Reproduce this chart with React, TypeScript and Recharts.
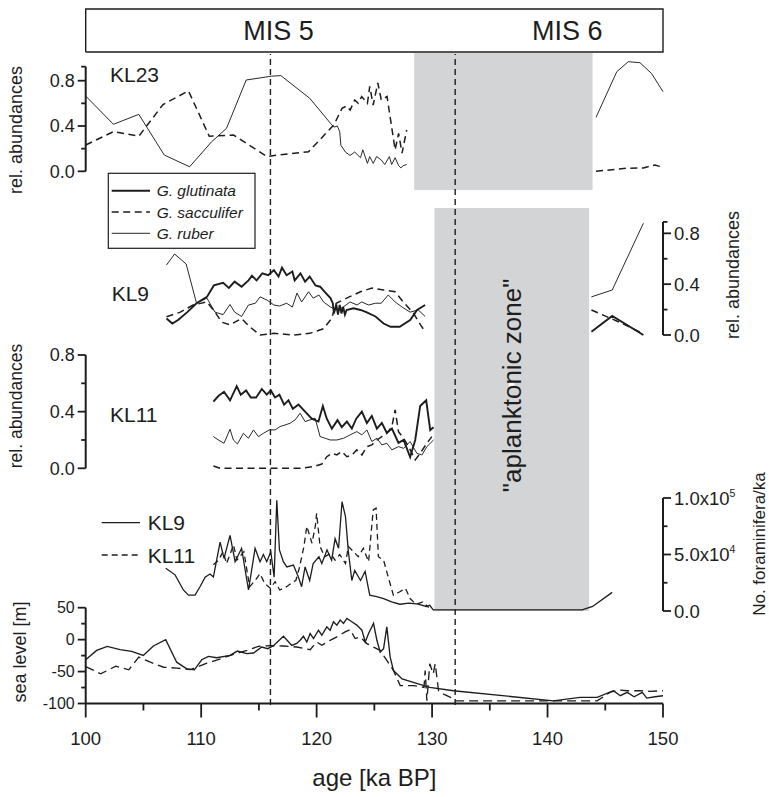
import React from 'react';
import { LineChart, ComposedChart, Line, Area, XAxis, YAxis, LabelList } from 'recharts';

const FONT = '"Liberation Sans", Arial, Helvetica, sans-serif';
const INK = '#1d1d1d';
const GREY = '#d3d4d6';
const W = 769;
const H = 797;
const PL = 85.7;
const PR = 663;
const XH = 90;

type Pt = [number, number | null];

// ---------------- data ----------------
const AGE_DOMAIN: [number, number] = [100, 150];
const X_TICKS = [100, 105, 110, 115, 120, 125, 130, 135, 140, 145, 150];
const EVENT_LINES = [116, 132];
const MIS_BOUNDARY = 133.4;
const ZONE_KL23: [number, number] = [128.45, 143.9];
const ZONE_APLANKTONIC: [number, number] = [130.2, 143.6];

const KL23_RUBER: Pt[] = [
  [100, 0.665], [102.4, 0.415], [104.6, 0.503], [106.8, 0.144], [109.0, 0.04], [110.9, 0.26], [112.2, 0.38],
  [113.9, 0.806], [116.1, 0.84], [116.9, 0.845], [119.4, 0.645], [121.2, 0.424], [121.5, 0.39], [121.8, 0.4],
  [122.0, 0.35], [122.1, 0.23], [122.5, 0.17], [122.9, 0.14], [123.3, 0.17], [123.8, 0.12], [124.0, 0.19],
  [124.4, 0.07], [124.6, 0.13], [124.9, 0.07], [125.2, 0.13], [125.6, 0.1], [125.9, 0.06], [126.3, 0.13],
  [126.5, 0.06], [126.8, 0.12], [127.1, 0.05], [127.3, 0.03], [127.5, 0.05], [127.8, 0.06],
  [136, null],
  [144.2, 0.477], [146.0, 0.88], [147.0, 0.968], [148.0, 0.959], [149.0, 0.865], [150, 0.703],
];
const KL23_SACC: Pt[] = [
  [100, 0.232], [102.4, 0.35], [104.6, 0.31], [106.7, 0.59], [108.9, 0.71], [110.7, 0.31], [112.8, 0.32],
  [115.7, 0.13], [116.6, 0.144], [119.3, 0.173], [121.5, 0.41], [122.2, 0.556], [122.6, 0.577], [122.9, 0.54],
  [123.3, 0.63], [123.6, 0.6], [123.9, 0.66], [124.4, 0.6], [124.6, 0.75], [124.9, 0.585], [125.3, 0.78],
  [125.6, 0.63], [126.1, 0.66], [126.5, 0.39], [126.8, 0.19], [127.1, 0.335], [127.4, 0.16], [127.8, 0.365],
  [136, null],
  [144.2, 0.0], [146.9, 0.027], [148.3, 0.03], [149.3, 0.056], [150, 0.035],
];

const KL9_GLUT: Pt[] = [
  [107.0, 0.13], [107.5, 0.09], [108.0, 0.118], [108.8, 0.18], [109.6, 0.25], [110.5, 0.30], [111.1, 0.39],
  [111.9, 0.41], [112.4, 0.37], [112.9, 0.42], [113.5, 0.38], [114.1, 0.43], [114.4, 0.466], [114.8, 0.43],
  [115.3, 0.485], [115.8, 0.47], [116.3, 0.51], [116.7, 0.46], [117.0, 0.53], [117.4, 0.47], [117.9, 0.50],
  [118.1, 0.43], [118.6, 0.485], [119.0, 0.42], [119.4, 0.46], [119.9, 0.39], [120.3, 0.38], [120.7, 0.34],
  [121.2, 0.29], [121.4, 0.25], [121.5, 0.17], [121.7, 0.24], [121.85, 0.16], [122.0, 0.236], [122.15, 0.17],
  [122.3, 0.22], [122.45, 0.16], [122.6, 0.197], [123.2, 0.21], [123.8, 0.197], [124.3, 0.18], [125.1, 0.146],
  [125.8, 0.09], [126.4, 0.065], [127.2, 0.065], [128.1, 0.118], [128.7, 0.197], [129.4, 0.236],
  [136, null],
  [143.8, 0.026], [145.6, 0.15], [148.3, 0.0],
];
const KL9_RUBER: Pt[] = [
  [107.0, 0.551], [107.7, 0.637], [108.7, 0.559], [109.6, 0.25], [110.5, 0.29], [111.2, 0.18], [111.9, 0.16],
  [112.5, 0.24], [112.9, 0.18], [113.5, 0.146], [114.1, 0.236], [114.7, 0.25], [115.1, 0.30], [115.7, 0.275],
  [116.3, 0.236], [116.8, 0.228], [117.4, 0.25], [117.9, 0.22], [118.3, 0.33], [118.7, 0.26], [119.3, 0.34],
  [119.7, 0.29], [120.2, 0.315], [120.6, 0.26], [121.2, 0.22], [121.8, 0.197], [122.3, 0.22], [122.9, 0.26],
  [123.5, 0.236], [123.9, 0.26], [124.5, 0.236], [125.1, 0.25], [125.6, 0.25], [126.2, 0.315], [126.8, 0.26],
  [127.4, 0.22], [128.1, 0.18], [128.8, 0.197], [129.4, 0.146],
  [136, null],
  [143.8, 0.30], [145.6, 0.354], [148.3, 0.879],
];
const KL9_SACC: Pt[] = [
  [107.0, 0.144], [108.2, 0.18], [109.3, 0.236], [110.5, 0.26], [111.2, 0.18], [111.8, 0.10], [112.5, 0.08],
  [113.5, 0.13], [114.2, 0.065], [115.1, 0.0], [116.3, 0.013], [118.0, 0.0], [119.4, 0.013], [120.6, 0.05],
  [121.3, 0.13], [121.7, 0.25], [122.6, 0.29], [123.8, 0.34], [124.8, 0.37], [125.8, 0.354], [126.8, 0.34],
  [127.5, 0.26], [128.4, 0.17], [129.0, 0.08], [129.4, 0.026],
  [136, null],
  [143.8, 0.197], [146.5, 0.09], [148.3, 0.01],
];

const KL11_GLUT: Pt[] = [
  [111.06, 0.47], [111.49, 0.51], [111.98, 0.54], [112.5, 0.48], [113.08, 0.58], [113.43, 0.52], [113.89, 0.55],
  [114.3, 0.5], [114.76, 0.5], [115.25, 0.56], [115.68, 0.52], [116.03, 0.55], [116.4, 0.5], [116.78, 0.52],
  [117.18, 0.45], [117.56, 0.48], [117.94, 0.42], [118.43, 0.45], [119.0, 0.4], [119.58, 0.35], [120.16, 0.33],
  [120.54, 0.44], [120.88, 0.35], [121.32, 0.28], [121.81, 0.34], [122.18, 0.29], [122.62, 0.33], [123.05, 0.28],
  [123.43, 0.35], [123.92, 0.4], [124.35, 0.32], [124.78, 0.37], [125.22, 0.28], [125.65, 0.32], [126.08, 0.25],
  [126.52, 0.28], [127.09, 0.18], [127.53, 0.2], [128.1, 0.08], [128.54, 0.2], [128.97, 0.44], [129.49, 0.48],
  [129.84, 0.27], [130.13, 0.29],
];
const KL11_RUBER: Pt[] = [
  [111.06, 0.224], [111.49, 0.2], [111.98, 0.177], [112.5, 0.276], [112.79, 0.2], [113.14, 0.172], [113.66, 0.247],
  [114.09, 0.212], [114.53, 0.271], [114.96, 0.224], [115.39, 0.247], [115.91, 0.271], [116.4, 0.271],
  [116.84, 0.295], [117.27, 0.306], [117.7, 0.318], [118.14, 0.342], [118.57, 0.389], [119.0, 0.33],
  [119.44, 0.342], [119.87, 0.354], [120.3, 0.224], [120.74, 0.212], [121.17, 0.2], [121.75, 0.2], [122.33, 0.212],
  [122.9, 0.236], [123.48, 0.259], [123.92, 0.236], [124.35, 0.271], [124.78, 0.189], [125.22, 0.212],
  [125.65, 0.165], [126.08, 0.177], [126.52, 0.13], [127.09, 0.153], [127.53, 0.141], [128.1, 0.189],
  [128.68, 0.106], [129.12, 0.094], [129.55, 0.153], [130.13, 0.2],
];
const KL11_SACC: Pt[] = [
  [111.06, 0.016], [111.64, 0.0], [112.79, 0.0], [115.68, 0.0], [118.57, 0.0], [119.73, 0.012], [120.45, 0.03],
  [120.88, 0.082], [121.32, 0.106], [121.75, 0.094], [122.18, 0.118], [122.62, 0.082], [123.05, 0.094],
  [123.48, 0.13], [123.92, 0.094], [124.35, 0.153], [124.78, 0.165], [125.22, 0.2], [125.65, 0.224],
  [126.08, 0.247], [126.52, 0.295], [126.8, 0.413], [127.09, 0.259], [127.53, 0.212], [127.96, 0.153],
  [128.54, 0.059], [128.97, 0.106], [129.55, 0.177], [129.98, 0.224],
];

const FORAM_KL9: Pt[] = [
  [106.93, 37800], [107.74, 32000], [108.46, 18600], [108.9, 14000], [109.47, 14000], [109.9, 21500],
  [110.34, 30000], [110.77, 32700], [111.06, 30000], [111.64, 61000], [111.98, 46600], [112.5, 67000],
  [112.94, 43600], [113.5, 55500], [114.1, 18600], [114.67, 55500], [115.1, 43600], [115.39, 50000],
  [115.68, 43600], [116.03, 52500], [116.32, 30000], [116.55, 98000], [116.78, 54000], [117.12, 43600],
  [117.42, 39000], [117.99, 40700], [118.42, 30000], [118.7, 21500], [119.0, 39000], [119.4, 27000],
  [119.7, 42000], [120.2, 48000], [120.45, 42000], [120.9, 54000], [121.3, 45000], [121.6, 64000],
  [121.9, 55500], [122.2, 96700], [122.5, 83500], [122.75, 52500], [123.05, 27000], [123.3, 36000],
  [123.8, 27000], [124.2, 35000], [124.6, 14000], [125.2, 12700], [125.8, 11000], [126.5, 8000], [127.2, 6000],
  [128.0, 7000], [128.8, 6000], [129.5, 4000], [129.8, 5000], [130.1, 1000], [143.0, 1000], [143.9, 4000],
  [145.6, 16500],
];
const FORAM_KL11: Pt[] = [
  [111.06, 41000], [111.5, 45000], [111.9, 52500], [112.2, 42000], [112.8, 58400], [113.1, 45000],
  [113.7, 52500], [114.2, 21500], [114.67, 27000], [115.1, 33000], [115.5, 24500], [116.0, 20000],
  [116.4, 26000], [116.8, 18600], [117.4, 21500], [118.0, 26000], [118.2, 27000], [118.5, 38000],
  [118.9, 57000], [119.15, 75000], [119.6, 60000], [119.9, 76000], [120.0, 86500], [120.3, 57000],
  [120.7, 48000], [121.2, 51000], [121.6, 45000], [122.0, 50000], [122.5, 42000], [122.75, 57000],
  [123.2, 52500], [123.6, 48000], [124.05, 55500], [124.5, 43600], [124.9, 89400], [125.15, 91000],
  [125.35, 48000], [125.8, 45000], [126.2, 30000], [126.65, 14000], [127.2, 17000], [127.7, 20000],
  [128.1, 11000], [128.6, 6000], [129.2, 8000], [129.7, 3000],
];

const SEA_SOLID: Pt[] = [
  [100, -31.5], [100.95, -16.8], [101.87, -10.5], [102.97, -15.7], [103.98, -18.4], [104.99, -24.7],
  [105.86, -10], [106.93, 0], [107.88, -35.3], [108.75, -45.7], [109.41, -47.3], [110.05, -31.5],
  [110.63, -26.3], [111.35, -28.3], [112.5, -24.7], [113.14, -17.9], [113.95, -22], [114.53, -21],
  [115.25, -11.6], [115.77, -14.2], [116.26, -9.4], [117.13, 5.3], [117.85, -9], [118.28, -6], [118.57, -1],
  [118.86, 5.3], [119.15, -3.7], [119.44, 9.6], [119.73, 1.7], [120.16, 14.8], [120.45, 6.9], [120.88, 20],
  [121.17, 14.8], [121.46, 27.9], [121.75, 22.7], [122.04, 30.6], [122.33, 25.4], [122.62, 33.2],
  [123.05, 27.9], [123.48, 22.7], [123.92, 14.8], [124.21, -3.7], [124.5, 9.6], [124.93, 25.4], [125.22, -1],
  [125.51, -19.5], [125.8, -14.1], [126.08, 20], [126.37, -27.4], [126.66, -48.4], [127.4, -61.5],
  [128.8, -69.4], [129.8, -74.7], [131.85, -80], [140.5, -95.8], [142.8, -90.5], [144.3, -90.5],
  [145.7, -80], [146.3, -87.8], [146.9, -82.6], [147.5, -89.4], [148.2, -82.6], [148.6, -91.5],
  [149.3, -89.4], [150, -87.8],
];
const SEA_DASHED: Pt[] = [
  [100, -42.1], [101.3, -53.6], [102.6, -41.6], [103.73, -47.3], [104.6, -27.4], [105.6, -35.3],
  [106.76, -43.2], [107.9, -44.7], [109.07, -46.8], [110.5, -36.8], [111.7, -29.9], [112.8, -23.1],
  [113.97, -16.8], [114.96, -10.5], [115.97, -9.4], [117.13, -10], [118.28, -11.6], [119.44, -15.8],
  [120.0, -3.7], [120.45, -8.9], [121.17, -1], [121.75, 4.2], [122.47, 12.1], [122.9, 15.8], [123.34, 1.7],
  [123.77, 4.2], [124.35, -6.2], [124.93, -11.6], [125.5, -16.8], [126.08, -32.6], [126.66, -48.4],
  [127.24, -72], [128.4, -72], [129.3, -74.7], [129.4, -48.4], [129.55, -95.8], [129.8, -37.8],
  [130.1, -53.6], [130.27, -37.8], [130.56, -80], [131.0, -85.3], [131.6, -90.5], [132.0, -95.8],
  [144.3, -95.8], [145.4, -82.6], [146.1, -78.9], [146.9, -80], [148.0, -80], [148.9, -81], [150, -80],
];

const SPECIES = ['G. glutinata', 'G. sacculifer', 'G. ruber'];
const CORES = ['KL9', 'KL11'];

// ---------------- styles ----------------
const STYLE_GLUT = { stroke: INK, strokeWidth: 1.9 };
const STYLE_SACC = { stroke: INK, strokeWidth: 1.5, strokeDasharray: '7 4.5' };
const STYLE_RUBER = { stroke: INK, strokeWidth: 0.95 };
const STYLE_CORE = [
  { stroke: INK, strokeWidth: 1.3 },
  { stroke: INK, strokeWidth: 1.3, strokeDasharray: '6 4' },
];
const STYLE_SEA = [
  { stroke: INK, strokeWidth: 1.35 },
  { stroke: INK, strokeWidth: 1.35, strokeDasharray: '9 5' },
];

const rows = (p: Pt[]) => p.map(([a, v]) => ({ a, v }));

const fmt1 = (v: number) => v.toFixed(1);
const fmtInt = (v: number) => String(v);
const fmtSci = (v: number) => {
  if (v === 0) return '0.0';
  const e = Math.floor(Math.log10(v));
  return (
    <>
      {(v / Math.pow(10, e)).toFixed(1)}x10
      <tspan dy={-8} fontSize={10.5}>{e}</tspan>
    </>
  );
};

const Layer = ({ children }: { children: React.ReactNode }) => (
  <div style={{ position: 'absolute', left: 0, top: 0, width: W, height: H }}>{children}</div>
);

function makeYTick(side: 'left' | 'right', majors: number[], fmt: (v: number) => React.ReactNode, fs: number) {
  const axisX = side === 'left' ? PL : PR;
  const dir = side === 'left' ? -1 : 1;
  return (p: any) => {
    const v = p.payload.value as number;
    const major = majors.some((m) => Math.abs(m - v) < 1e-9);
    const len = major ? 8 : 4.5;
    return (
      <g>
        <line x1={axisX} x2={axisX + dir * len} y1={p.y} y2={p.y} stroke={INK} strokeWidth={1.8} />
        {major ? (
          <text x={axisX + dir * (len + 3)} y={p.y} dy="0.36em" textAnchor={dir < 0 ? 'end' : 'start'}
            fontFamily={FONT} fontSize={fs} fill={INK}>{fmt(v)}</text>
        ) : null}
      </g>
    );
  };
}

const SEA_TOP = 607.7;
const SEA_BOTTOM = 703.5;

const XTick = (p: any) => {
  const v = p.payload.value as number;
  const major = v % 10 === 0;
  return (
    <g>
      <line x1={p.x} x2={p.x} y1={SEA_BOTTOM} y2={SEA_BOTTOM + (major ? 14 : 7)} stroke={INK} strokeWidth={1.8} />
      {major ? (
        <text x={p.x} y={SEA_BOTTOM + 41} textAnchor="middle" fontFamily={FONT} fontSize={18.5} fill={INK}>{v}</text>
      ) : null}
    </g>
  );
};

const XTitle = () => (
  <text x={(PL + PR) / 2} y={786} textAnchor="middle" fontFamily={FONT} fontSize={24} fill={INK}>age [ka BP]</text>
);

type PanelProps = {
  top: number; bottom: number; side: 'left' | 'right'; domain: [number, number];
  ticks: number[]; majors: number[]; fmt: (v: number) => React.ReactNode; fs?: number;
  axisLine?: boolean; showX?: boolean; children?: React.ReactNode;
};

function Panel({ top, bottom, side, domain, ticks, majors, fmt, fs = 17, axisLine = true, showX = false, children }: PanelProps) {
  return (
    <Layer>
      <LineChart width={W} height={H}
        margin={{ top, bottom: H - bottom - (showX ? XH : 0), left: side === 'left' ? 0 : PL, right: side === 'left' ? W - PR : 0 }}>
        <XAxis type="number" dataKey="a" domain={AGE_DOMAIN} hide={!showX} height={showX ? XH : 0}
          ticks={X_TICKS} interval={0} tick={showX ? XTick : false} tickLine={false}
          axisLine={showX ? { stroke: INK, strokeWidth: 2 } : false}
          label={showX ? <XTitle /> : undefined} />
        <YAxis type="number" orientation={side} width={side === 'left' ? PL : W - PR} domain={domain}
          ticks={ticks} interval={0} tick={makeYTick(side, majors, fmt, fs)} tickLine={false}
          axisLine={axisLine ? { stroke: INK, strokeWidth: 2 } : false} />
        {children}
      </LineChart>
    </Layer>
  );
}

function Frame({ top, bottom, children }: { top: number; bottom: number; children?: React.ReactNode }) {
  return (
    <Layer>
      <ComposedChart width={W} height={H} margin={{ top, bottom: H - bottom, left: PL, right: W - PR }}>
        <XAxis type="number" dataKey="a" domain={AGE_DOMAIN} hide />
        <YAxis type="number" domain={[0, 1]} hide />
        {children}
      </ComposedChart>
    </Layer>
  );
}

const makeCenterLabel = (fs: number, vert: boolean) => (p: any) => {
  const x = p.x ?? p.viewBox?.x;
  const y = p.y ?? p.viewBox?.y;
  if (x == null || y == null) return null;
  return (
    <text x={x} y={y} dy="0.36em" textAnchor="middle" fontFamily={FONT} fontSize={fs} fill={INK}
      transform={vert ? `rotate(-90 ${x} ${y})` : undefined}>{p.value}</text>
  );
};

const VText = ({ cx, cy, txt, fs }: { cx: number; cy: number; txt: string; fs: number }) => (
  <text x={cx} y={cy} dy="0.36em" textAnchor="middle" fontFamily={FONT} fontSize={fs} fill={INK}
    transform={`rotate(-90 ${cx} ${cy})`}>{txt}</text>
);

const series = (data: Pt[], style: any, key: string) => (
  <Line key={key} data={rows(data)} dataKey="v" type="linear" dot={false} activeDot={false}
    isAnimationActive={false} connectNulls={false} {...style} />
);

const zone = ([x1, x2]: [number, number], key: string) => (
  <Area key={key} data={[{ a: x1, v: 1 }, { a: x2, v: 1 }]} dataKey="v" type="linear" baseValue={0}
    fill={GREY} fillOpacity={1} stroke="none" isAnimationActive={false} activeDot={false} dot={false} />
);

export default function App() {
  const legendRows = [STYLE_GLUT, STYLE_SACC, STYLE_RUBER];
  const boxOutline = [
    { a: AGE_DOMAIN[0], v: 0 }, { a: AGE_DOMAIN[0], v: 1 }, { a: AGE_DOMAIN[1], v: 1 },
    { a: AGE_DOMAIN[1], v: 0 }, { a: AGE_DOMAIN[0], v: 0 },
  ];
  const misLabels = [
    { a: (AGE_DOMAIN[0] + MIS_BOUNDARY) / 2, v: 0.5, t: 'MIS 5' },
    { a: (MIS_BOUNDARY + AGE_DOMAIN[1]) / 2, v: 0.5, t: 'MIS 6' },
  ];
  const zoneLabel = [{ a: (ZONE_APLANKTONIC[0] + ZONE_APLANKTONIC[1]) / 2, v: 0.56, t: '"aplanktonic zone"' }];
  return (
    <div style={{ position: 'fixed', left: 0, top: 0, width: W, height: H, background: '#fff', overflow: 'hidden' }}>
      {/* header */}
      <Frame top={9} bottom={52}>
        <Line data={boxOutline} dataKey="v" type="linear" stroke={INK} strokeWidth={1.4} dot={false} activeDot={false}
          isAnimationActive={false} />
        <Line data={misLabels} dataKey="v" stroke="none" dot={false} activeDot={false} isAnimationActive={false}>
          <LabelList dataKey="t" content={makeCenterLabel(27, false)} />
        </Line>
      </Frame>
      {/* grey zones */}
      <Frame top={53} bottom={190}>
        {zone(ZONE_KL23, 'z1')}
      </Frame>
      <Frame top={208} bottom={611}>
        {zone(ZONE_APLANKTONIC, 'z2')}
        <Line data={zoneLabel} dataKey="v" stroke="none" dot={false} activeDot={false} isAnimationActive={false}>
          <LabelList dataKey="t" content={makeCenterLabel(26, true)} />
        </Line>
      </Frame>
      {/* event lines */}
      <Frame top={54} bottom={705}>
        {EVENT_LINES.map((a) => (
          <Line key={a} data={[{ a, v: 0 }, { a, v: 1 }]} dataKey="v" type="linear" stroke={INK} strokeWidth={1.4}
            strokeDasharray="6 4" dot={false} activeDot={false} isAnimationActive={false} />
        ))}
      </Frame>

      {/* KL23 */}
      <Panel top={58.05} bottom={171.3} side="left" domain={[0, 1.0]} ticks={[0, 0.2, 0.4, 0.6, 0.8, 0.924]}
        majors={[0, 0.4, 0.8]} fmt={fmt1} fs={18} axisLine={false}>
        <Line data={[{ a: AGE_DOMAIN[0], v: 0 }, { a: AGE_DOMAIN[0], v: 0.924 }]} dataKey="v" stroke={INK}
          strokeWidth={2} dot={false} activeDot={false} isAnimationActive={false} />
        {series(KL23_SACC, STYLE_SACC, 's')}
        {series(KL23_RUBER, STYLE_RUBER, 'r')}
      </Panel>

      {/* KL9 */}
      <Panel top={221.9} bottom={335} side="right" domain={[0, 0.89]} ticks={[0, 0.2, 0.4, 0.6, 0.8, 0.89]}
        majors={[0, 0.4, 0.8]} fmt={fmt1} fs={18.5}>
        {series(KL9_SACC, STYLE_SACC, 's')}
        {series(KL9_RUBER, STYLE_RUBER, 'r')}
        {series(KL9_GLUT, STYLE_GLUT, 'g')}
      </Panel>

      {/* KL11 */}
      <Panel top={355} bottom={468.3} side="left" domain={[0, 0.8]} ticks={[0, 0.2, 0.4, 0.6, 0.8]}
        majors={[0, 0.4, 0.8]} fmt={fmt1} fs={18}>
        {series(KL11_SACC, STYLE_SACC, 's')}
        {series(KL11_RUBER, STYLE_RUBER, 'r')}
        {series(KL11_GLUT, STYLE_GLUT, 'g')}
      </Panel>

      {/* foraminifera counts */}
      <Panel top={498} bottom={611} side="right" domain={[0, 100000]} ticks={[0, 25000, 50000, 75000, 100000]}
        majors={[0, 50000, 100000]} fmt={fmtSci} fs={18.5}>
        {series(FORAM_KL11, STYLE_CORE[1], 'k11')}
        {series(FORAM_KL9, STYLE_CORE[0], 'k9')}
      </Panel>

      {/* sea level */}
      <Panel top={SEA_TOP} bottom={SEA_BOTTOM} side="left" domain={[-100, 50]} ticks={[-100, -75, -50, -25, 0, 25, 50]}
        majors={[-100, -50, 0, 50]} fmt={fmtInt} fs={16} showX>
        {series(SEA_DASHED, STYLE_SEA[1], 'sd')}
        {series(SEA_SOLID, STYLE_SEA[0], 'ss')}
      </Panel>

      {/* annotations */}
      <svg width={W} height={H} style={{ position: 'absolute', left: 0, top: 0 }}>
        <text x={110} y={82} fontFamily={FONT} fontSize={21} fill={INK}>KL23</text>
        <text x={111.7} y={301} fontFamily={FONT} fontSize={21} fill={INK}>KL9</text>
        <text x={110} y={422} fontFamily={FONT} fontSize={21} fill={INK}>KL11</text>

        <rect x={108.3} y={173.3} width={146.7} height={75} fill="#fff" stroke={INK} strokeWidth={1.2} />
        {SPECIES.map((s, i) => (
          <g key={s}>
            <line x1={111.7} x2={150} y1={190.7 + i * 21.3} y2={190.7 + i * 21.3} {...legendRows[i]} />
            <text x={156.7} y={190.7 + i * 21.3 + 5.5} fontFamily={FONT} fontStyle="italic" fontSize={15.5} fill={INK}>{s}</text>
          </g>
        ))}

        {CORES.map((c, i) => (
          <g key={c}>
            <line x1={101.7} x2={140} y1={522.7 + i * 32.3} y2={522.7 + i * 32.3} {...STYLE_CORE[i]} />
            <text x={147.7} y={522.7 + i * 32.3 + 7.5} fontFamily={FONT} fontSize={21} fill={INK}>{c}</text>
          </g>
        ))}

        <VText cx={16} cy={130} txt="rel. abundances" fs={18} />
        <VText cx={16} cy={406} txt="rel. abundances" fs={17.5} />
        <VText cx={733} cy={275} txt="rel. abundances" fs={18} />
        <VText cx={20} cy={652} txt="sea level [m]" fs={18} />
        <VText cx={759} cy={544} txt="No. foraminifera/ka" fs={17} />
      </svg>
    </div>
  );
}
